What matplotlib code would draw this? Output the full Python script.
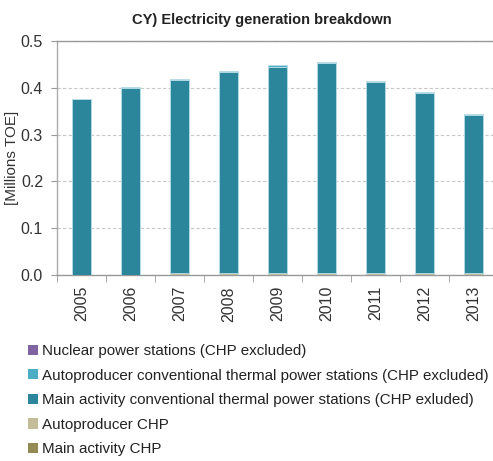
import matplotlib
matplotlib.use("Agg")
import matplotlib.pyplot as plt
from matplotlib.patches import Patch
import numpy as np

plt.rcParams['font.family'] = ['Liberation Sans', 'DejaVu Sans']

years = ['2005', '2006', '2007', '2008', '2009', '2010', '2011', '2012', '2013']
nuclear = [0.0, 0.0, 0.0, 0.0, 0.0, 0.0, 0.0, 0.0, 0.0]
auto_conv = [0.001, 0.002, 0.003, 0.003, 0.003, 0.002, 0.002, 0.002, 0.003]
main_conv = [0.374, 0.399, 0.412, 0.429, 0.441, 0.450, 0.408, 0.384, 0.338]
auto_chp = [0.001, 0.001, 0.004, 0.004, 0.004, 0.004, 0.004, 0.004, 0.004]
main_chp = [0.0, 0.0, 0.0, 0.0, 0.0, 0.0, 0.0, 0.0, 0.0]

labels = ['Nuclear power stations (CHP excluded)',
          'Autoproducer conventional thermal power stations (CHP excluded)',
          'Main activity conventional thermal power stations (CHP exluded)',
          'Autoproducer CHP',
          'Main activity CHP']
colors = ['#8064A2', '#4BACC6', '#2B869B', '#C4BD97', '#948A54']
series = [nuclear, auto_conv, main_conv, auto_chp, main_chp]

fig = plt.figure(figsize=(4.93, 4.61), dpi=100)
ax = fig.add_axes([57/493, 1 - 275/461, 441/493, 234/461])

x = np.arange(len(years))
bottom = np.zeros(len(years))
# stack from the bottom: main CHP, autoproducer CHP, main conv, autoproducer conv, nuclear
for vals, col in zip(series[::-1], colors[::-1]):
    v = np.array(vals)
    ax.bar(x, v, width=0.38, bottom=bottom, color=col, edgecolor='#b9dde6',
           linewidth=0.6, zorder=3)
    bottom += v

ax.set_xlim(-0.5, len(years) - 0.5)
ax.set_ylim(0, 0.5)
ax.set_yticks([0.0, 0.1, 0.2, 0.3, 0.4, 0.5])
ax.set_yticklabels(['0.0', '0.1', '0.2', '0.3', '0.4', '0.5'])
ax.yaxis.grid(True, color='#c8c8c8', linestyle=(0, (3, 2)), linewidth=0.8, zorder=0)
ax.set_axisbelow(True)

ax.set_xticks(x)
ax.set_xticklabels(years, rotation=90)
ax.set_xticks(np.arange(len(years) + 1) - 0.5, minor=True)
ax.tick_params(axis='x', which='major', length=0, pad=8, labelsize=11.5, colors='#333333')
ax.tick_params(axis='x', which='minor', length=5, color='#999999', direction='out')
ax.tick_params(axis='y', length=4, color='#999999', labelsize=11.5, labelcolor='#333333', pad=6)

ax.spines['right'].set_visible(False)
ax.spines['top'].set_color('#999999')
ax.spines['top'].set_linewidth(1.0)
ax.spines['left'].set_color('#aaaaaa')
ax.spines['bottom'].set_color('#999999')
ax.spines['left'].set_linewidth(1.0)
ax.spines['bottom'].set_linewidth(1.0)

ax.set_ylabel('[Millions TOE]', fontsize=11, color='#333333', va='center')
ax.yaxis.set_label_coords(-(57 - 12) / 441, 0.5)
fig.text(262/493, 1 - 20/461, 'CY) Electricity generation breakdown', ha='center', va='center',
         fontsize=10.5, fontweight='bold', color='#222222')

handles = [Patch(facecolor=c, edgecolor='none') for c in colors]
fig.legend(handles, labels, loc='upper left', bbox_to_anchor=(22/493, 1 - 338/461),
           frameon=False, fontsize=10.9, handlelength=0.65, handleheight=0.65,
           handletextpad=0.25, labelspacing=0.7, labelcolor='#222222', borderaxespad=0)

fig.savefig('out.png', dpi=100)
